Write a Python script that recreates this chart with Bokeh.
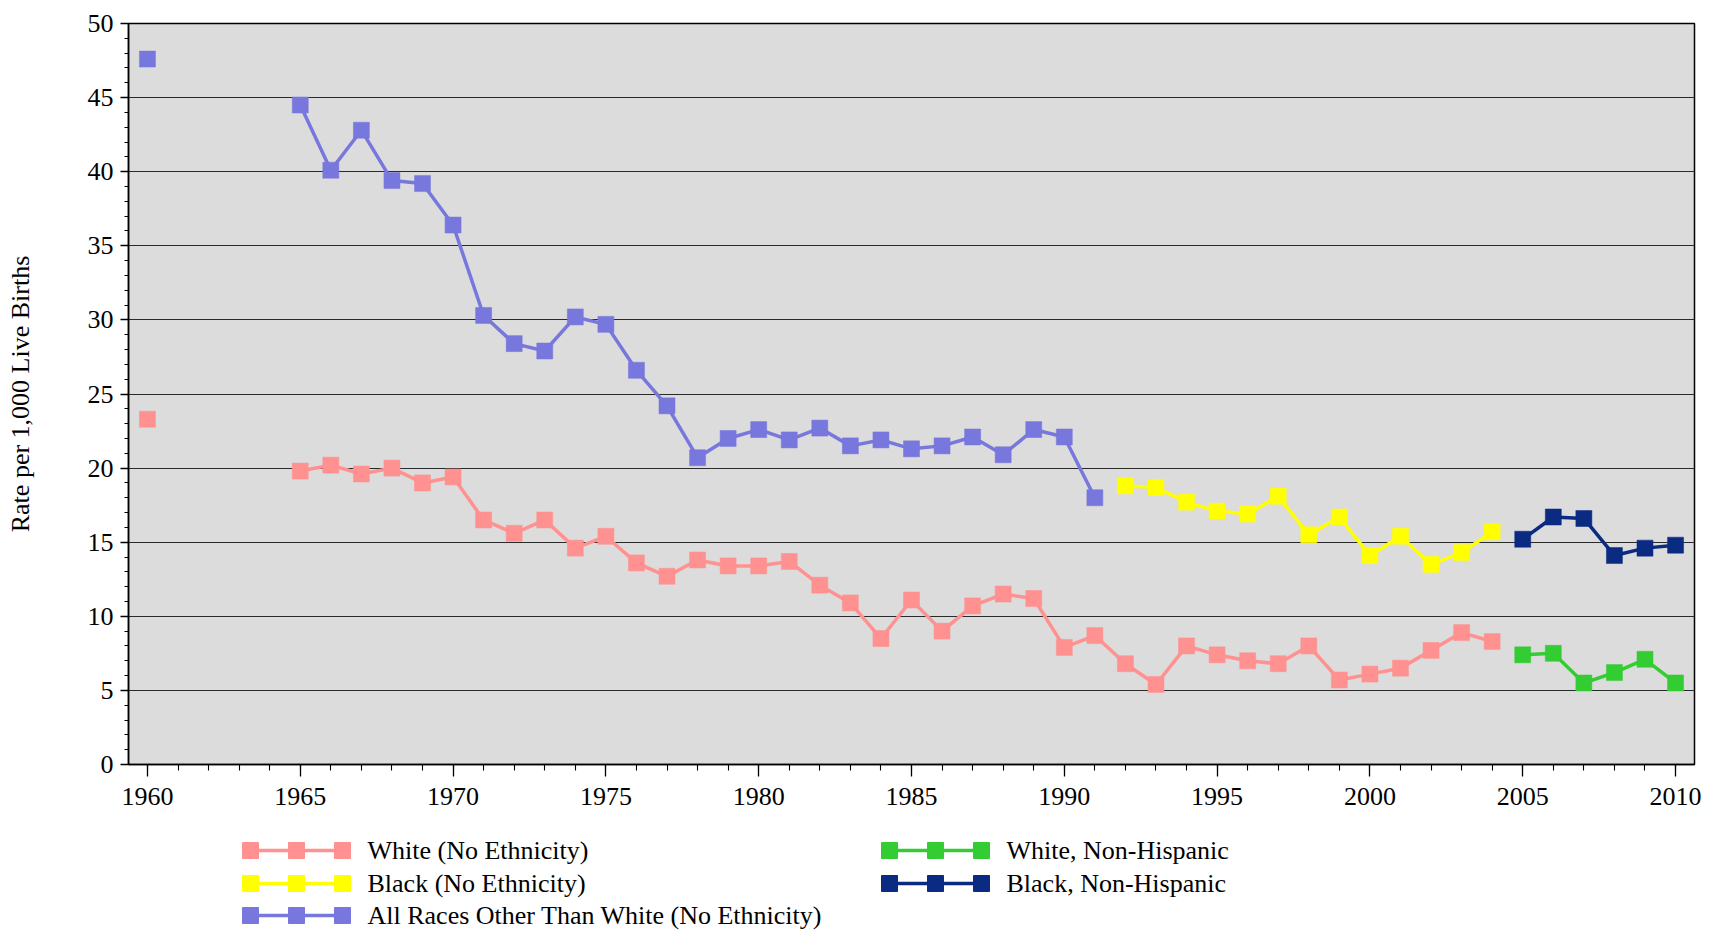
import numpy as np
from bokeh.plotting import figure
from bokeh.layouts import column
from bokeh.models import Range1d, SingleIntervalTicker, BasicTickFormatter
from bokeh.core.properties import value
from bokeh.embed import file_html
from bokeh.resources import INLINE

# ---------------- data ----------------
years_white_ne = [1960] + list(range(1965, 2005))
white_ne = [23.3,
            19.8, 20.2, 19.6, 20.0, 19.0, 19.4, 16.5, 15.6, 16.5, 14.6,
            15.4, 13.6, 12.7, 13.8, 13.4, 13.4, 13.7, 12.1, 10.9, 8.5,
            11.1, 9.0, 10.7, 11.5, 11.2, 7.9, 8.7, 6.8, 5.4, 8.0,
            7.4, 7.0, 6.8, 8.0, 5.7, 6.1, 6.5, 7.7, 8.9, 8.3]

years_black_ne = list(range(1992, 2005))
black_ne = [18.8, 18.7, 17.7, 17.1, 16.9, 18.1, 15.5, 16.7, 14.1, 15.4, 13.5, 14.3, 15.7]

years_other = [1960] + list(range(1965, 1992))
other = [47.6,
         44.5, 40.1, 42.8, 39.4, 39.2, 36.4, 30.3, 28.4, 27.9, 30.2,
         29.7, 26.6, 24.2, 20.7, 22.0, 22.6, 21.9, 22.7, 21.5, 21.9,
         21.3, 21.5, 22.1, 20.9, 22.6, 22.1, 18.0]

years_white_nh = list(range(2005, 2011))
white_nh = [7.4, 7.5, 5.5, 6.2, 7.1, 5.5]

years_black_nh = list(range(2005, 2011))
black_nh = [15.2, 16.7, 16.6, 14.1, 14.6, 14.8]

series_names = ["White (No Ethnicity)", "Black (No Ethnicity)",
                "All Races Other Than White (No Ethnicity)",
                "White, Non-Hispanic", "Black, Non-Hispanic"]
series_colors = ["#FF9191", "#FFFF00", "#7777DD", "#33CC33", "#0B2A82"]
series_data = [(years_white_ne, white_ne), (years_black_ne, black_ne),
               (years_other, other), (years_white_nh, white_nh),
               (years_black_nh, black_nh)]

y_axis_title = "Rate per 1,000 Live Births"

FONT = "Liberation Serif"
W = 1703
BL, BR = 128, 9          # frame borders (left / right)
MAIN_H = 828
LEG_H = 105

# ---------------- main chart ----------------
p = figure(width=W, height=MAIN_H, output_backend="svg", toolbar_location=None,
           x_range=Range1d(1959.38, 2010.62), y_range=Range1d(0, 50),
           min_border_left=BL, min_border_right=BR, min_border_top=23,
           min_border_bottom=64)
p.background_fill_color = "#DCDCDC"
p.border_fill_color = "white"
p.outline_line_color = "black"
p.outline_line_width = 1.5

p.xgrid.visible = False
p.ygrid.grid_line_color = "#2a2a2a"
p.ygrid.grid_line_width = 1.2

p.xaxis.ticker = SingleIntervalTicker(interval=5, num_minor_ticks=5)
p.yaxis.ticker = SingleIntervalTicker(interval=5, num_minor_ticks=5)
p.xaxis.formatter = BasicTickFormatter(use_scientific=False)

for ax in (p.xaxis[0], p.yaxis[0]):
    ax.axis_line_color = "black"
    ax.axis_line_width = 1.5
    ax.major_tick_line_color = "black"
    ax.minor_tick_line_color = "black"
    ax.major_tick_line_width = 1.3
    ax.minor_tick_line_width = 1.1
    ax.major_tick_in = 0
    ax.minor_tick_in = 0
    ax.major_label_text_font = FONT
    ax.major_label_text_font_size = "26px"
    ax.major_label_text_color = "black"

p.xaxis.major_tick_out = 12
p.xaxis.minor_tick_out = 6
p.xaxis.major_label_standoff = 11
p.yaxis.major_tick_out = 8
p.yaxis.minor_tick_out = 4
p.yaxis.major_label_standoff = 7

p.yaxis.axis_label = y_axis_title
p.yaxis.axis_label_text_font = FONT
p.yaxis.axis_label_text_font_size = "26px"
p.yaxis.axis_label_text_font_style = "normal"
p.yaxis.axis_label_text_color = "black"
p.yaxis.axis_label_standoff = 50


def with_gaps(xs, ys):
    ox, oy = [], []
    for i, (x, y) in enumerate(zip(xs, ys)):
        if i > 0 and x - xs[i - 1] > 1:
            ox.append(np.nan)
            oy.append(np.nan)
        ox.append(x)
        oy.append(y)
    return ox, oy


for (xs, ys), color in zip(series_data, series_colors):
    lx, ly = with_gaps(xs, ys)
    p.line(lx, ly, line_color=color, line_width=3.5)
    p.scatter(xs, ys, marker="square", size=16, fill_color=color,
              line_color=color, line_width=0.5)

# ---------------- legend (separate panel, page-pixel coordinates) ----------------
lg = figure(width=W, height=LEG_H, output_backend="svg", toolbar_location=None,
            x_range=Range1d(BL, W - BR), y_range=Range1d(LEG_H, 0),
            x_axis_location=None, y_axis_location=None,
            min_border_left=BL, min_border_right=BR,
            min_border_top=0, min_border_bottom=0)
lg.outline_line_color = None
lg.grid.visible = False
lg.background_fill_color = "white"
lg.border_fill_color = "white"

COL_X = [242, 881]
ROW_Y = [22, 55, 87]
GLYPH_W = 108
TEXT_GAP = 17
slots = [(0, 0), (0, 1), (0, 2), (1, 0), (1, 1)]
for (ci, ri), name, color in zip(slots, series_names, series_colors):
    x0 = COL_X[ci]
    y0 = ROW_Y[ri]
    lg.line([x0, x0 + GLYPH_W], [y0, y0], line_color=color, line_width=3.5)
    mx = [x0 + 8, x0 + GLYPH_W / 2, x0 + GLYPH_W - 8]
    lg.scatter(mx, [y0] * 3, marker="square", size=16, fill_color=color,
               line_color=color)
    lg.text([x0 + GLYPH_W + TEXT_GAP], [y0], text=[name],
            text_font=value(FONT), text_font_size="26px",
            text_baseline="middle", text_align="left", text_color="black")

layout = column(p, lg)
open("out.html", "w").write(file_html(layout, INLINE))
